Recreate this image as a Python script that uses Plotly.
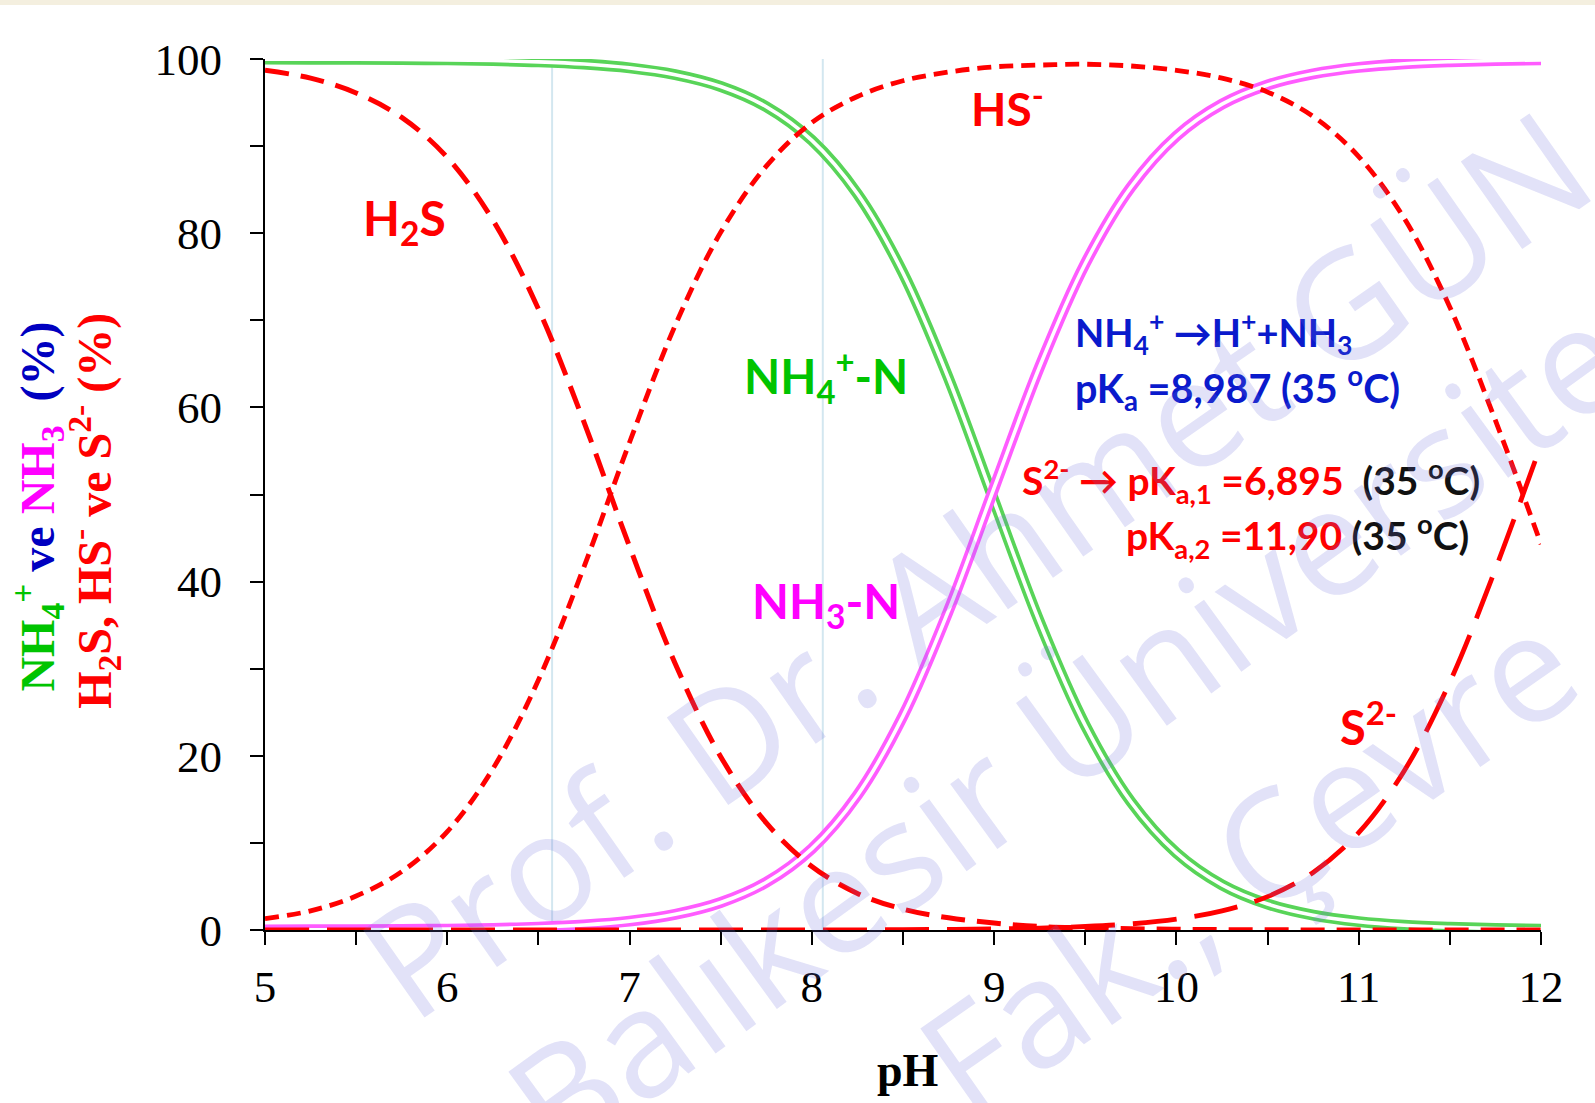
import plotly.graph_objects as go

# ---------------- data ----------------
ph = [5.0, 5.25, 5.5, 5.75, 6.0, 6.25, 6.5, 6.75, 7.0, 7.25, 7.5, 7.75, 8.0, 8.25,
      8.5, 8.75, 9.0, 9.25, 9.5, 9.75, 10.0, 10.25, 10.5, 10.75, 11.0, 11.25, 11.5,
      11.75, 12.0]

nh4_pct = [99.99, 99.98, 99.97, 99.94, 99.9, 99.82, 99.67, 99.42, 98.98, 98.2, 96.84,
           94.52, 90.66, 84.52, 75.43, 63.32, 49.25, 35.31, 23.48, 14.72, 8.85, 5.18,
           2.98, 1.7, 0.96, 0.54, 0.31, 0.17, 0.1]
nh3_pct = [0.01, 0.02, 0.03, 0.06, 0.1, 0.18, 0.33, 0.58, 1.02, 1.8, 3.16, 5.48, 9.34,
           15.48, 24.57, 36.68, 50.75, 64.69, 76.52, 85.28, 91.15, 94.82, 97.02, 98.3,
           99.04, 99.46, 99.69, 99.83, 99.9]
h2s_pct = [98.7, 97.8, 96.1, 93.3, 88.7, 81.5, 71.3, 58.3, 44.0, 30.6, 19.9, 12.3, 7.3,
           4.2, 2.4, 1.4, 0.8, 0.4, 0.25, 0.14, 0.08, 0.04, 0.02, 0.01, 0.0, 0.0, 0.0,
           0.0, 0.0]
hs_pct = [1.3, 2.2, 3.9, 6.7, 11.3, 18.5, 28.7, 41.7, 56.0, 69.4, 80.1, 87.7, 92.7, 95.7,
          97.5, 98.5, 99.1, 99.3, 99.4, 99.2, 98.7, 97.8, 96.2, 93.4, 88.8, 81.7, 71.5,
          58.5, 44.3]
s2_pct = [0.0, 0.0, 0.0, 0.0, 0.0, 0.0, 0.0, 0.0, 0.0, 0.0, 0.0, 0.0, 0.01, 0.02, 0.04,
          0.07, 0.12, 0.22, 0.4, 0.7, 1.24, 2.19, 3.83, 6.61, 11.18, 18.29, 28.47, 41.45,
          55.73]

ref_ph_lines = [6.575, 8.06]

x_ticks = [5, 6, 7, 8, 9, 10, 11, 12]
y_ticks = [0, 20, 40, 60, 80, 100]

GREEN_LINE = "#58D458"
MAG_LINE = "#FF5CFF"
RED = "#FF0000"
GREEN_TXT = "#00C400"
MAG_TXT = "#FF00FF"
BLUE_TXT = "#0A1ACC"

fig = go.Figure()

for v in ref_ph_lines:
    fig.add_vline(x=v, line=dict(color="#D3E7F0", width=2), layer="below")

# double lines (Excel "double" compound style)
for ys, col in [(nh4_pct, GREEN_LINE), (nh3_pct, MAG_LINE)]:
    fig.add_trace(go.Scatter(x=ph, y=ys, mode="lines",
                             line=dict(color=col, width=11, shape="spline"),
                             hoverinfo="skip", showlegend=False))
    fig.add_trace(go.Scatter(x=ph, y=ys, mode="lines",
                             line=dict(color="white", width=3.6, shape="spline"),
                             hoverinfo="skip", showlegend=False))

fig.add_trace(go.Scatter(x=ph, y=h2s_pct, mode="lines",
                         line=dict(color=RED, width=5, dash="24px,12px", shape="spline"),
                         hoverinfo="skip", showlegend=False))
fig.add_trace(go.Scatter(x=ph, y=hs_pct, mode="lines",
                         line=dict(color=RED, width=4.8, dash="14px,8px", shape="spline"),
                         hoverinfo="skip", showlegend=False))
fig.add_trace(go.Scatter(x=ph, y=s2_pct, mode="lines",
                         line=dict(color=RED, width=4.8, dash="44px,18px", shape="spline"),
                         hoverinfo="skip", showlegend=False))

tickfont = dict(family="Liberation Serif", size=45, color="black")
fig.update_xaxes(range=[5, 12], tickvals=x_ticks, ticks="outside", ticklen=13,
                 tickwidth=2, tickcolor="black", showline=True, linecolor="black",
                 linewidth=2, showgrid=False, zeroline=False, tickfont=tickfont,
                 ticklabelstandoff=3, layer="below traces",
                 minor=dict(dtick=0.5, ticks="outside", ticklen=13, tickwidth=2,
                            tickcolor="black", showgrid=False))
fig.update_yaxes(range=[0, 100], tickvals=y_ticks, ticks="outside", ticklen=13,
                 tickwidth=2, tickcolor="black", showline=True, linecolor="black",
                 linewidth=2, showgrid=False, zeroline=False, tickfont=tickfont,
                 ticklabelstandoff=19, layer="below traces",
                 minor=dict(dtick=10, ticks="outside", ticklen=13, tickwidth=2,
                            tickcolor="black", showgrid=False))

lab = dict(family="Lato", weight="bold")
annots = [
    dict(x=5.765, y=81.4, text="H<sub>2</sub>S", font=dict(size=48, color=RED, **lab)),
    dict(x=9.072, y=94.7, text="HS<sup>-</sup>", font=dict(size=46, color=RED, **lab)),
    dict(x=8.079, y=63.6, text="NH<sub>4</sub><sup>+</sup>-N", font=dict(size=47, color=GREEN_TXT, **lab)),
    dict(x=8.079, y=37.4, text="NH<sub>3</sub>-N", font=dict(size=48, color=MAG_TXT, **lab)),
    dict(x=11.051, y=23.65, text="S<sup>2-</sup>", font=dict(size=47, color=RED, **lab)),
]
for a in annots:
    fig.add_annotation(xref="x", yref="y", showarrow=False, xanchor="center",
                       yanchor="middle", **a)

left_txt = [
    dict(x=9.434, y=68.5, text="NH<sub>4</sub><sup>+</sup> <b>→</b>H<sup>+</sup>+NH<sub>3</sub>",
         font=dict(size=38, color=BLUE_TXT, **lab)),
    dict(x=9.434, y=62.2, text="pK<sub>a</sub> =8,987 (35 <sup>o</sup>C)",
         font=dict(size=39.5, color=BLUE_TXT, **lab)),
    dict(x=9.143, y=51.55,
         text="S<sup>2-</sup> <b>→</b> pK<sub>a,1</sub> =6,895  <span style='color:#111111'>(35 <sup>o</sup>C)</span>",
         font=dict(size=39, color=RED, **lab)),
    dict(x=9.713, y=45.2,
         text="pK<sub>a,2</sub> =11,90 <span style='color:#111111'>(35 <sup>o</sup>C)</span>",
         font=dict(size=39, color=RED, **lab)),
]
for a in left_txt:
    fig.add_annotation(xref="x", yref="y", showarrow=False, xanchor="left",
                       yanchor="middle", **a)

# axis titles
serif_b = dict(family="Liberation Serif", weight="bold")
fig.add_annotation(xref="paper", yref="paper", x=0.504, y=-0.193, showarrow=False,
                   text="pH", font=dict(size=46, color="black", **serif_b))
fig.add_annotation(
    xref="paper", yref="paper", x=-0.206, y=0.4857, showarrow=False, textangle=-90,
    text=(f"<span style='color:{GREEN_TXT}'>NH<sub>4</sub><sup>+</sup></span> "
          f"<span style='color:#0000C0'>ve</span> "
          f"<span style='color:{MAG_TXT}'>NH<sub>3</sub></span> "
          f"<span style='color:#0000C0'> (%)</span>"),
    font=dict(size=48, color="black", **serif_b))
fig.add_annotation(
    xref="paper", yref="paper", x=-0.162, y=0.481, showarrow=False, textangle=-90,
    text="H<sub>2</sub>S, HS<sup>-</sup> ve S<sup>2-</sup> (%)",
    font=dict(size=48, color=RED, **serif_b))

# watermark
wm = dict(family="Open Sans", size=150, color="rgba(110,110,220,0.20)")
for x, y, ang, t in [(0.5558, 0.4225, -35, "Prof. Dr. Ahmet GÜN"),
                     (0.627, 0.232, -36, "Balıkesir Üniversite"),
                     (0.769, 0.0804, -35, "Fak., Çevre")]:
    fig.add_annotation(xref="paper", yref="paper", x=x, y=y, text=t, showarrow=False,
                       textangle=ang, font=wm, xanchor="center", yanchor="middle")

# beige strip at the top
fig.add_shape(type="rect", xref="paper", yref="paper", x0=-0.3, x1=1.1, y0=1.062,
              y1=1.1, fillcolor="#F4EFDF", line=dict(width=0), layer="below")

fig.update_layout(width=1595, height=1103, margin=dict(l=265, r=54, t=59, b=173),
                  plot_bgcolor="white", paper_bgcolor="white", showlegend=False)

fig.write_html("out.html")
